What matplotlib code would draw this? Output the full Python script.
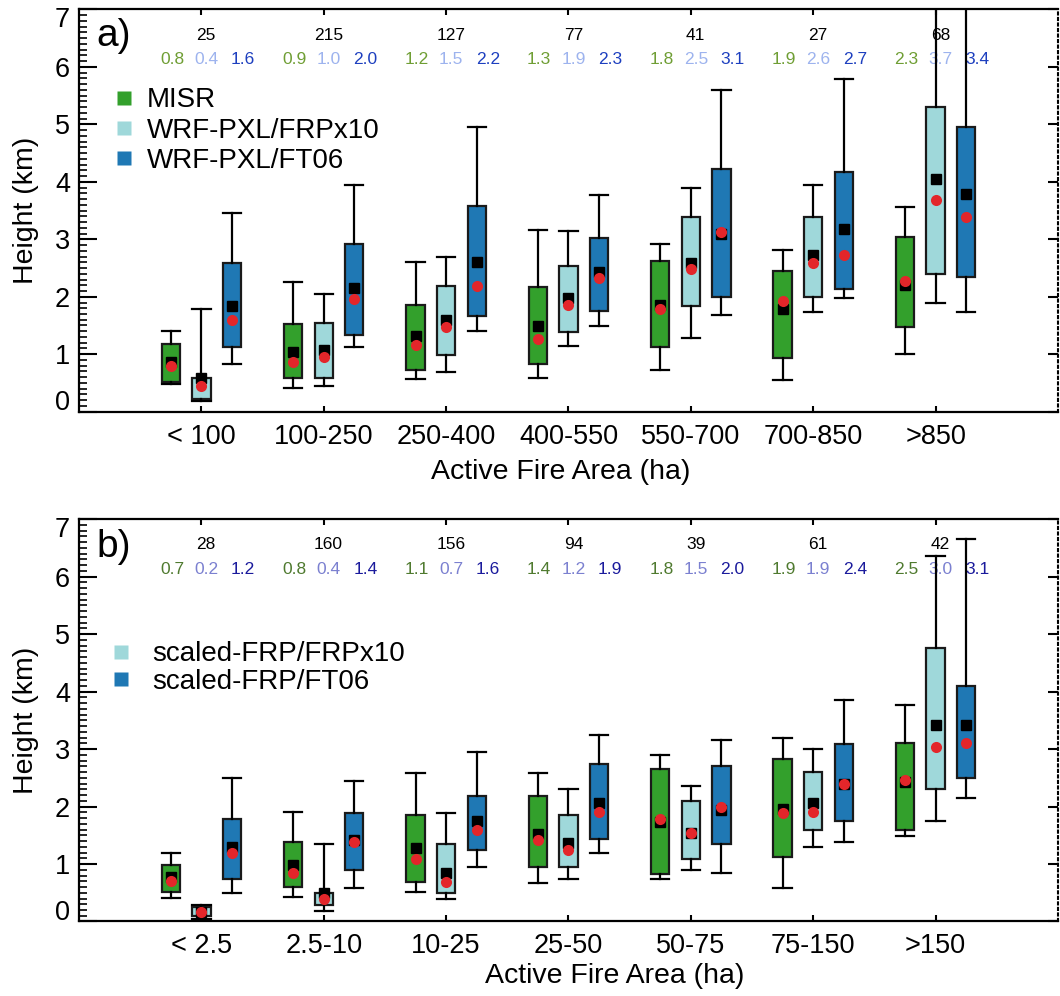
import matplotlib
matplotlib.use("Agg")
import matplotlib.pyplot as plt
from matplotlib.lines import Line2D
from matplotlib.ticker import MultipleLocator
from matplotlib.transforms import ScaledTranslation

plt.rcParams['font.family'] = ['Liberation Sans', 'DejaVu Sans']

cats_a = ["< 100", "100-250", "250-400", "400-550", "550-700", "700-850", ">850"]
cats_b = ["< 2.5", "2.5-10", "10-25", "25-50", "50-75", "75-150", ">150"]
counts_a = [25, 215, 127, 77, 41, 27, 68]
counts_b = [28, 160, 156, 94, 39, 61, 42]

# per category: (whisker low, q1, q3, whisker high, black square, red dot)
a_misr = [(0.48, 0.52, 1.18, 1.40, 0.86, 0.80), (0.42, 0.58, 1.52, 2.26, 1.04, 0.87),
          (0.57, 0.72, 1.86, 2.60, 1.32, 1.16), (0.59, 0.83, 2.17, 3.16, 1.49, 1.26),
          (0.73, 1.12, 2.63, 2.92, 1.85, 1.78), (0.56, 0.94, 2.44, 2.82, 1.79, 1.93),
          (1.00, 1.47, 3.04, 3.56, 2.21, 2.27)]
a_frp = [(0.19, 0.23, 0.59, 1.79, 0.58, 0.44), (0.44, 0.58, 1.54, 2.04, 1.08, 0.96),
         (0.69, 0.99, 2.19, 2.69, 1.59, 1.48), (1.14, 1.39, 2.54, 3.14, 1.97, 1.86),
         (1.29, 1.84, 3.39, 3.89, 2.59, 2.49), (1.74, 1.99, 3.39, 3.95, 2.72, 2.59),
         (1.89, 2.39, 5.30, 7.60, 4.05, 3.69)]
a_ft06 = [(0.83, 1.13, 2.59, 3.45, 1.84, 1.59), (1.13, 1.34, 2.91, 3.94, 2.15, 1.96),
          (1.41, 1.67, 3.57, 4.95, 2.61, 2.19), (1.49, 1.76, 3.02, 3.77, 2.43, 2.32),
          (1.69, 1.99, 4.22, 5.60, 3.10, 3.12), (1.97, 2.14, 4.17, 5.79, 3.18, 2.72),
          (1.74, 2.34, 4.95, 7.90, 3.79, 3.39)]

b_misr = [(0.41, 0.52, 0.99, 1.19, 0.77, 0.70), (0.42, 0.60, 1.38, 1.91, 0.99, 0.84),
          (0.51, 0.69, 1.86, 2.58, 1.28, 1.09), (0.67, 0.94, 2.19, 2.58, 1.53, 1.41),
          (0.74, 0.83, 2.66, 2.90, 1.73, 1.79), (0.58, 1.13, 2.83, 3.19, 1.96, 1.88),
          (1.48, 1.59, 3.11, 3.77, 2.43, 2.46)]
b_frp = [(0.05, 0.09, 0.25, 0.29, 0.17, 0.16), (0.19, 0.29, 0.49, 1.35, 0.49, 0.40),
         (0.39, 0.49, 1.35, 1.89, 0.85, 0.69), (0.74, 0.94, 1.85, 2.30, 1.36, 1.24),
         (0.90, 1.09, 2.10, 2.35, 1.54, 1.54), (1.30, 1.59, 2.60, 3.00, 2.06, 1.90),
         (1.74, 2.30, 4.75, 6.36, 3.42, 3.04)]
b_ft06 = [(0.49, 0.74, 1.79, 2.50, 1.30, 1.20), (0.59, 0.90, 1.89, 2.44, 1.41, 1.39),
          (0.94, 1.24, 2.19, 2.95, 1.74, 1.59), (1.20, 1.44, 2.74, 3.25, 2.06, 1.90),
          (0.84, 1.35, 2.70, 3.15, 1.94, 2.00), (1.39, 1.74, 3.09, 3.85, 2.40, 2.40),
          (2.15, 2.50, 4.10, 6.66, 3.42, 3.10)]

box_colors = ['#33a02c', '#9fd8da', '#1f78b4']
txt_colors_a = ['#6f9e34', '#9db3ee', '#1d3fbf']
txt_colors_b = ['#4f7a2f', '#7b80d0', '#1a1a9c']
offsets = [-0.25, 0.0, 0.25]
txt_offsets = [-0.24, 0.04, 0.34]


def draw_panel(ax, cats, counts, series, txt_colors):
    pos0 = list(range(1, len(cats) + 1))
    for k, rows in enumerate(series):
        pos = [p + offsets[k] for p in pos0]
        stats = [dict(whislo=r[0], q1=r[1], med=r[5], q3=r[2], whishi=r[3], fliers=[])
                 for r in rows]
        ax.bxp(stats, positions=pos, widths=0.15, capwidths=0.15, patch_artist=True,
               showfliers=False, manage_ticks=False, zorder=3,
               boxprops=dict(facecolor=box_colors[k], edgecolor='#1a1a1a', linewidth=1.6),
               whiskerprops=dict(color='black', linewidth=1.6),
               capprops=dict(color='black', linewidth=1.6),
               medianprops=dict(linewidth=0))
        ax.plot(pos, [r[4] for r in rows], 's', color='black', ms=7.5, zorder=4)
        ax.plot(pos, [r[5] for r in rows], 'o', color='#e3262a', mec='none', ms=8, zorder=5)
        for p, r in zip(pos0, rows):
            ax.text(p + txt_offsets[k], 6.13, f"{r[5]:.1f}", color=txt_colors[k],
                    ha='center', va='center', fontsize=12.5, zorder=1)
    for p, n in zip(pos0, counts):
        ax.text(p + 0.04, 6.55, str(n), ha='center', va='center', fontsize=12.5, zorder=1)

    ax.set_xlim(0, 8)
    ax.set_ylim(0, 7)
    ax.set_xticks(pos0, cats)
    ax.set_yticks(range(8))
    ax.yaxis.set_minor_locator(MultipleLocator(0.1))
    ax.tick_params(axis='x', direction='in', top=True, bottom=True, length=4.5,
                   width=1.5, labelsize=19.5, pad=8.5)
    ax.tick_params(axis='y', which='major', direction='in', left=True, right=False,
                   length=13, width=1.5, labelsize=19.5, pad=6.5)
    ax.tick_params(axis='y', which='minor', direction='in', left=True, right=False,
                   length=6, width=1.2)
    # end labels sit inside the frame, as in the original
    ticks = ax.yaxis.get_major_ticks()
    ticks[0].label1.set_transform(ticks[0].label1.get_transform()
                                  + ScaledTranslation(0, 8.5 / 72, ax.figure.dpi_scale_trans))
    ticks[-1].label1.set_transform(ticks[-1].label1.get_transform()
                                   + ScaledTranslation(0, -5.5 / 72, ax.figure.dpi_scale_trans))
    for s in ['left', 'bottom', 'top']:
        ax.spines[s].set_linewidth(1.6)
    ax.spines['right'].set_visible(False)
    sec = ax.secondary_yaxis('right')
    sec.set_yticks(range(8))
    sec.tick_params(direction='in', length=7.5, width=1.5, labelright=False)
    sec.spines['right'].set_linestyle(':')
    sec.spines['right'].set_linewidth(1.5)

    ax.set_ylabel("Height (km)", fontsize=20.5)
    ax.yaxis.set_label_coords(-0.041, 0.5)
    ax.set_xlabel("Active Fire Area (ha)", fontsize=20.5)


fig = plt.figure(figsize=(10.6, 9.96), dpi=100)
ax1 = fig.add_axes([0.0745, 0.5866, 0.9236, 0.4041])
ax2 = fig.add_axes([0.0745, 0.0748, 0.9236, 0.4041])

draw_panel(ax1, cats_a, counts_a, [a_misr, a_frp, a_ft06], txt_colors_a)
draw_panel(ax2, cats_b, counts_b, [b_misr, b_frp, b_ft06], txt_colors_b)
ax1.xaxis.set_label_coords(0.492, -0.117)
ax2.xaxis.set_label_coords(0.547, -0.103)

ax1.text(0.018, 0.933, "a)", transform=ax1.transAxes, fontsize=28, ha='left', va='center')
ax2.text(0.018, 0.93, "b)", transform=ax2.transAxes, fontsize=28, ha='left', va='center')

names_a = ["MISR", "WRF-PXL/FRPx10", "WRF-PXL/FT06"]
names_b = ["scaled-FRP/FRPx10", "scaled-FRP/FT06"]
h_a = [Line2D([], [], ls='none', marker='s', ms=10, color=c, mec='none') for c in box_colors]
h_b = [Line2D([], [], ls='none', marker='s', ms=10, color=c, mec='none') for c in box_colors[1:]]
ax1.legend(h_a, names_a, loc='upper left', bbox_to_anchor=(0.032, 0.806), frameon=False,
           fontsize=20, handlelength=1.0, handletextpad=0.3, labelspacing=0.15,
           borderpad=0, borderaxespad=0)
ax2.legend(h_b, names_b, loc='upper left', bbox_to_anchor=(0.029, 0.696), frameon=False,
           fontsize=20, handlelength=1.0, handletextpad=0.6, labelspacing=0.05,
           borderpad=0, borderaxespad=0)

fig.savefig("out.png", dpi=100)
